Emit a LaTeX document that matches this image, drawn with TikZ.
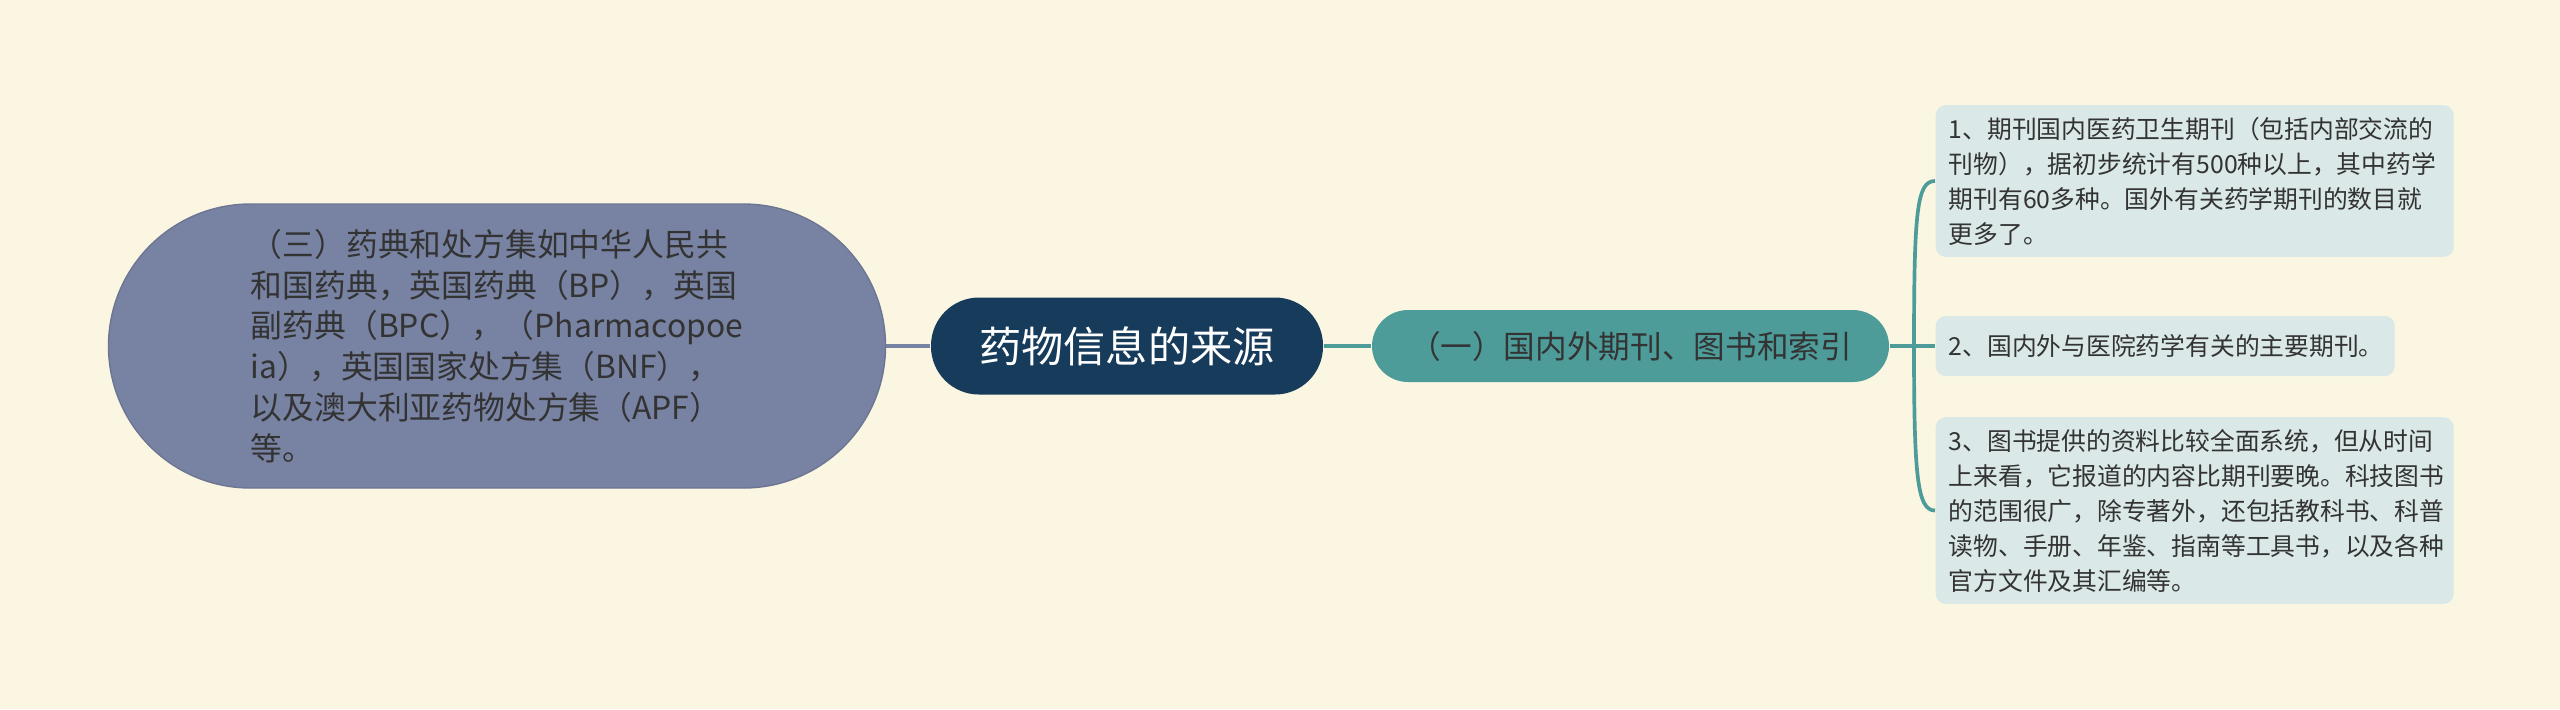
\documentclass[tikz,border=0pt]{standalone}
\usepackage{fontspec}
\setmainfont{Noto Sans CJK SC}
\definecolor{bgcream}{HTML}{FBF6E2}
\definecolor{slate}{HTML}{7883A3}
\definecolor{navy}{HTML}{173B5A}
\definecolor{teal}{HTML}{4D9C99}
\definecolor{pale}{HTML}{DAE8E7}
\definecolor{ink}{HTML}{333333}
\tikzset{root/.style={rectangle,rounded corners=0.48cm,fill=navy,text=white,minimum width=3.92cm,minimum height=0.97cm,font=\fontsize{12}{14}\selectfont}}
\tikzset{branch/.style={rectangle,rounded corners=0.36cm,fill=teal,text=ink,minimum width=5.17cm,minimum height=0.72cm,font=\fontsize{9}{11}\selectfont}}
\tikzset{bigleaf/.style={rectangle,rounded corners=1.42cm,fill=slate,draw=slate!90!black,line width=0.4pt,text=ink,minimum width=7.77cm,minimum height=2.84cm,align=left,font=\fontsize{9.05}{11.6}\selectfont}}
\tikzset{leaf/.style={rectangle,rounded corners=0.1cm,fill=pale,text=ink,anchor=west,inner xsep=0.13cm,align=left,font=\fontsize{7.05}{9.96}\selectfont}}
\tikzset{link/.style={line width=1.05pt}}

\begin{document}
\begin{tikzpicture}
    \fill[bgcream] (0,0) rectangle (25.6,-7.09);
    \useasboundingbox (0,0) rectangle (25.6,-7.09);
    \node[root] (src) at (11.27,-3.46) {药物信息的来源};
    \node[bigleaf] (pharma) at (4.97,-3.46) {（三）药典和处方集如中华人民共\\和国药典，英国药典（BP），英国\\副药典（BPC），（Pharmacopoe\\ia），英国国家处方集（BNF），\\以及澳大利亚药物处方集（APF）\\等。};
    \node[branch] (journals) at (16.305,-3.46) {（一）国内外期刊、图书和索引};
    \coordinate (hub) at (19.14,-3.46);
    \node[leaf,text width=4.92cm,minimum height=1.50cm] (j1) at (19.35,-1.81) {1、期刊国内医药卫生期刊（包括内部交流的\\刊物），据初步统计有500种以上，其中药学\\期刊有60多种。国外有关药学期刊的数目就\\更多了。};
    \node[leaf,text width=4.33cm,minimum height=0.6cm] (j2) at (19.35,-3.46) {2、国内外与医院药学有关的主要期刊。};
    \node[leaf,text width=4.92cm,minimum height=1.81cm] (j3) at (19.35,-5.105) {3、图书提供的资料比较全面系统，但从时间\\上来看，它报道的内容比期刊要晚。科技图书\\的范围很广，除专著外，还包括教科书、科普\\读物、手册、年鉴、指南等工具书，以及各种\\官方文件及其汇编等。};
    \draw[link,slate] (src) -- (pharma);
    \draw[link,teal] (src) -- (journals);
    \draw[link,teal] (journals) -- (hub);
    \draw[link,teal] (hub) .. controls (19.14,-2.1) and (19.17,-1.81) .. (j1.west);
    \draw[link,teal] (hub) -- (j2.west);
    \draw[link,teal] (hub) .. controls (19.14,-4.75) and (19.17,-5.105) .. (j3.west);
  \end{tikzpicture}
\end{document}
